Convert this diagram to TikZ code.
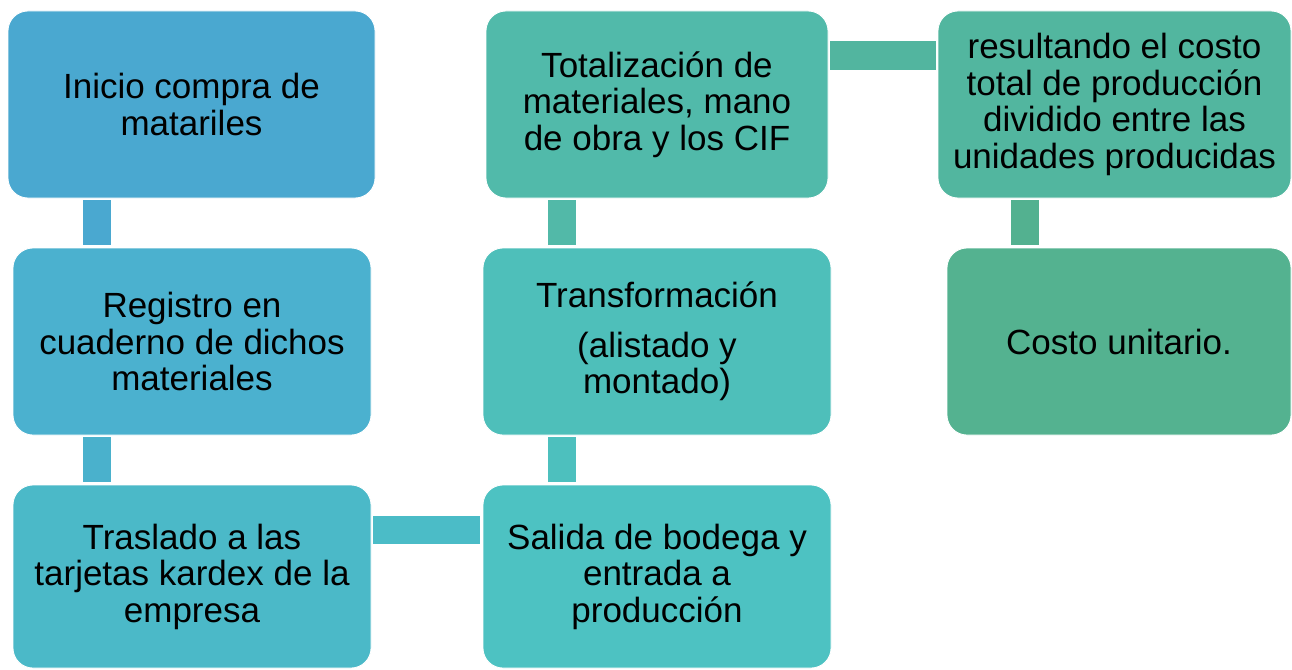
\documentclass[tikz,border=0pt]{standalone}
\usepackage{fontspec}
\setmainfont{Liberation Sans}
\usetikzlibrary{calc}
\definecolor{cA}{RGB}{74,168,208}
\definecolor{cB}{RGB}{75,177,207}
\definecolor{cBC}{RGB}{74,177,204}
\definecolor{cC}{RGB}{75,185,200}
\definecolor{cCD}{RGB}{75,188,199}
\definecolor{cD}{RGB}{77,194,194}
\definecolor{cDE}{RGB}{77,192,190}
\definecolor{cE}{RGB}{78,191,186}
\definecolor{cEF}{RGB}{82,185,168}
\definecolor{cF}{RGB}{81,186,170}
\definecolor{cFG}{RGB}{82,181,159}
\definecolor{cG}{RGB}{82,182,159}
\definecolor{cGH}{RGB}{83,177,144}
\definecolor{cH}{RGB}{84,178,144}
\begin{document}
\begin{tikzpicture}[x=1pt,y=-1pt,
  box/.style={draw=white,line width=0.8pt,rounded corners=20pt,inner sep=0pt,outer sep=0pt,
    align=center,text=black,font=\fontsize{35}{36.5}\selectfont},
  conn/.style={line width=28pt,line cap=butt}]
\useasboundingbox[fill=white] (0,0) rectangle (1292,669);
% boxes
\node[box,fill=cA,minimum width=367pt,minimum height=187pt] (b1) at (191.5,104.5) {Inicio compra de\\matariles};
\node[box,fill=cB,minimum width=358pt,minimum height=187pt] (b2) at (192,341.5) {Registro en\\cuaderno de dichos\\materiales};
\node[box,fill=cC,minimum width=358pt,minimum height=183pt] (b3) at (192,576.5) {Traslado a las\\tarjetas kardex de la\\empresa};
\node[box,fill=cD,minimum width=348pt,minimum height=183pt] (b4) at (657,576.5) {Salida de bodega y\\entrada a\\producción};
\node[box,fill=cE,minimum width=348pt,minimum height=187pt] (b5) at (657,341.5) {Transformación\\[13pt](alistado y\\montado)};
\node[box,fill=cF,minimum width=342pt,minimum height=187pt] (b6) at (657,104.5) {Totalización de\\materiales, mano\\de obra y los CIF};
\node[box,fill=cG,minimum width=353pt,minimum height=187pt] (b7) at (1114.5,104.5) {resultando el costo\\total de producción\\dividido entre las\\unidades producidas};
\node[box,fill=cH,minimum width=344pt,minimum height=187pt] (b8) at (1119,341.5) {Costo unitario.};
% connectors
\draw[conn,cA] ($(b1.south west)+(89,2)$) -- ($(b2.north west)+(84,-3)$);
\draw[conn,cBC] ($(b2.south west)+(84,2)$) -- ($(b3.north west)+(84,-3)$);
\draw[conn,cCD] ($(b3.north east)+(2,44.5)$) -- ($(b4.north west)+(-3,44.5)$);
\draw[conn,cDE] ($(b4.north west)+(78.5,-3)$) -- ($(b5.south west)+(78.5,2)$);
\draw[conn,cEF] ($(b5.north west)+(79,-3)$) -- ($(b6.south west)+(76,2)$);
\draw[conn,cFG] ($(b6.north east)+(2,44.5)$) -- ($(b7.north west)+(-2,44.5)$);
\draw[conn,cGH] ($(b7.south west)+(86.5,2)$) -- ($(b8.north west)+(77.5,-3)$);
\end{tikzpicture}
\end{document}
